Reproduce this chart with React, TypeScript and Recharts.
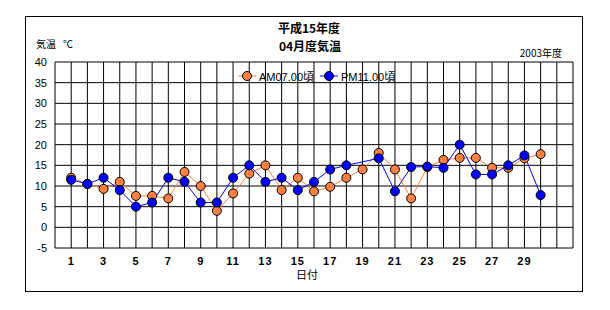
import React from 'react';
import { ComposedChart, Line, XAxis, YAxis, CartesianGrid, Legend, Customized } from 'recharts';

const days = [1,2,3,4,5,6,7,8,9,10,11,12,13,14,15,16,17,18,19,20,21,22,23,24,25,26,27,28,29,30];
const amTemps = [12, 10.5, 9.3, 11, 7.6, 7.6, 7, 13.4, 10, 4, 8.2, 13, 15, 9, 12, 8.7, 9.8, 12, 14, 18, 14, 7, 14.6, 16.3, 16.8, 16.8, 14.4, 14.4, 16.7, 17.7];
const pmTemps: (number | null)[] = [11.5, 10.5, 12, 9, 5, 6, 12, 11, 6, 6, 12, 15, 11, 12, 9, 11, 14, 15, null, 16.7, 8.7, 14.6, 14.7, 14.4, 20, 12.8, 12.8, 15, 17.4, 7.8];
const xTicks = [0,1,2,3,4,5,6,7,8,9,10,11,12,13,14,15,16,17,18,19,20,21,22,23,24,25,26,27,28,29,30,31,32];
const xLabelTicks = [1,3,5,7,9,11,13,15,17,19,21,23,25,27,29];
const yTicks = [-5, 0, 5, 10, 15, 20, 25, 30, 35, 40];
const seriesNames = { am: 'AM07.00頃', pm: 'PM11.00頃' };
const titleLines = ['平成15年度', '04月度気温'];
const yUnitParts = ['気温', '℃'];
const yearText = '2003年度';
const xTitle = '日付';

const data = days.map((d, i) => ({ day: d, am: amTemps[i], pm: pmTemps[i] }));

const FONT = "'Liberation Sans', 'Noto Sans CJK JP', sans-serif";
const CJK = "'Noto Sans CJK JP', sans-serif";
const ORANGE = '#FF8040';
const BLUE = '#0000FF';

const Dot = (color: string) => (props: any) => {
  const { cx, cy, index } = props;
  if (cx == null || cy == null || props.value == null) return <g key={index} />;
  return <circle key={index} cx={cx} cy={cy} r={4.5} fill={color} stroke="#000" strokeWidth={1} />;
};

const Decorations = () => (
  <g>
    <rect x={25.5} y={16.5} width={557} height={275} fill="none" stroke="#000" strokeWidth={1} />
    <text x={309} y={32.5} textAnchor="middle" fontFamily={CJK} fontWeight="bold" fontSize={12} fill="#000">{titleLines[0]}</text>
    <text x={310} y={50.5} textAnchor="middle" fontFamily={CJK} fontWeight="bold" fontSize={12} fill="#000">{titleLines[1]}</text>
    <text fontFamily={CJK} fontSize={10} fill="#000">
      <tspan x={36} y={48}>{yUnitParts[0]}</tspan>
      <tspan x={63} y={48}>{yUnitParts[1]}</tspan>
    </text>
    <text x={562} y={57} textAnchor="end" fontFamily={CJK} fontSize={10} fill="#000">{yearText}</text>
    <text x={307} y={279} textAnchor="middle" fontFamily={CJK} fontSize={11} fill="#000">{xTitle}</text>
  </g>
);

const LegendContent = () => {
  const items = [
    { name: seriesNames.am, color: ORANGE },
    { name: seriesNames.pm, color: BLUE },
  ];
  return (
    <div style={{ display: 'flex', alignItems: 'center', fontFamily: FONT, fontSize: 11, color: '#000', height: 16 }}>
      {items.map((it) => (
        <div key={it.name} style={{ display: 'flex', alignItems: 'center', marginRight: 6 }}>
          <svg width={18} height={12} style={{ display: 'block' }}>
            <line x1={0} y1={6} x2={18} y2={6} stroke={it.color} strokeWidth={1} />
            <circle cx={9} cy={6} r={4.5} fill={it.color} stroke="#000" strokeWidth={1} />
          </svg>
          <span style={{ marginLeft: 3 }}>{it.name}</span>
        </div>
      ))}
    </div>
  );
};

export default function App() {
  return (
    <div style={{ position: 'absolute', left: 0, top: 0, width: 610, height: 310, background: '#fff' }}>
      <ComposedChart width={610} height={310} data={data} margin={{ top: 62, right: 37, bottom: 32, left: 25 }}>
        <CartesianGrid stroke="#000" strokeWidth={1} fill="#fff" />
        <XAxis
          dataKey="day"
          type="number"
          domain={[0, 32]}
          ticks={xTicks}
          interval={0}
          height={30}
          axisLine={false}
          tickLine={false}
          tickSize={7}
          tickMargin={2}
          tick={{ fill: '#000', fontSize: 11, fontWeight: 'bold', fontFamily: FONT, letterSpacing: 1 }}
          tickFormatter={(v: number) => (xLabelTicks.includes(v) ? String(v) : '')}
        />
        <YAxis
          type="number"
          domain={[-5, 40]}
          ticks={yTicks}
          interval={0}
          width={30}
          axisLine={false}
          tickLine={false}
          tickSize={6}
          tickMargin={2}
          tick={{ fill: '#000', fontSize: 11, fontFamily: FONT }}
        />
        <Legend
          layout="horizontal"
          verticalAlign="middle"
          align="center"
          content={<LegendContent />}
          wrapperStyle={{ left: 238, top: 68, width: 170, height: 16 }}
        />
        <Line
          dataKey="am"
          name={seriesNames.am}
          stroke={ORANGE}
          strokeWidth={1}
          dot={Dot(ORANGE)}
          activeDot={false}
          isAnimationActive={false}
          connectNulls
        />
        <Line
          dataKey="pm"
          name={seriesNames.pm}
          stroke={BLUE}
          strokeWidth={1}
          dot={Dot(BLUE)}
          activeDot={false}
          isAnimationActive={false}
          connectNulls
        />
        <Customized component={Decorations} />
      </ComposedChart>
    </div>
  );
}
